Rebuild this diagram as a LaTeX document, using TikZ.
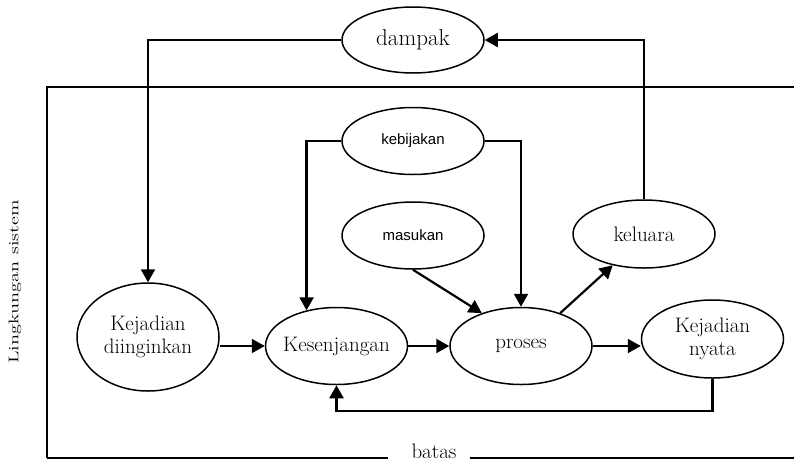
\documentclass[tikz,border=0pt]{standalone}
\usepackage{fontspec}
\newfontfamily\arialfont{Liberation Sans}
\usetikzlibrary{shapes.geometric, positioning, calc, arrows.meta}

\begin{document}
\begin{tikzpicture}[x=1pt, y=-1pt,
    proc/.style={ellipse,
      draw,
      line width=1.5pt,
      inner ysep=0pt,
      inner xsep=-6pt,
      minimum width=142pt,
      minimum height=#1,
      align=center,
      font=\fontsize{21}{23}\selectfont},
    proc/.default=77pt,
    sansproc/.style={proc=67pt,
      font=\arialfont\fontsize{15}{18}\selectfont},
    flow/.style={line width=2.2pt,
      -{Triangle[length=13pt, width=14pt]}},
    bound/.style={line width=1.8pt}]
  \useasboundingbox (0,0) rectangle (794,461);

  % BOUNDARY

  \node [font=\fontsize{21}{23}\selectfont,
    inner sep=0pt,
    anchor=base] (batas) at (434,458) {batas};

  \node [rotate=90] (lingkungan) at (15,282) {
    \scalebox{1.45}[1]{\fontsize{14}{16}\selectfont Lingkungan sistem}
  };

  \coordinate (cornerbl) at (47,458);
  \draw[bound] (cornerbl) -- (47,87) -- (794,87);
  \draw[bound] (cornerbl) -- ([xshift=-23pt]batas.base west);
  \draw[bound] ([xshift=13pt]batas.base east) -- (794,458);

  % PROCESSES

  \node [proc=66pt,
    font=\fontsize{23}{25}\selectfont] (dampak) at (413,40) {dampak};

  \node [sansproc,
    below=33pt of dampak] (kebijakan) {kebijakan};

  \node [sansproc,
    below=26pt of kebijakan] (masukan) {masukan};

  \node [proc] (proses) at (521,346) {proses};

  \node [proc,
    left=41pt of proses] (kesenjangan) {Kesenjangan};

  \node [proc=108pt,
    left=45pt of kesenjangan,
    yshift=9pt] (kejdiingin) {Kejadian\\diinginkan};

  \node [proc=78pt,
    right=48pt of proses,
    yshift=7pt] (kejnyata) {Kejadian\\nyata};

  \node [proc=68pt] (keluaran) at (644,234) {keluara};

  % FLOWS

  \draw[flow] (keluaran.north) |- (dampak.east);
  \draw[flow] (dampak.west) -| (kejdiingin.north);
  \draw[flow] (kebijakan.west) -| (kesenjangan.130);
  \draw[flow] (kebijakan.east) -| (proses.north);
  \draw[flow] (masukan.south) -- (proses.140);
  \draw[flow] (proses.40) -- (keluaran.225);
  \draw[flow] (kesenjangan.west -| kejdiingin.east) -- (kesenjangan.west);
  \draw[flow] (kesenjangan.east) -- (proses.west);
  \draw[flow] (proses.east) -- (proses.east -| kejnyata.west);
  \draw[flow] (kejnyata.south) -- ++(0,32) -| (kesenjangan.south);

\end{tikzpicture}
\end{document}
